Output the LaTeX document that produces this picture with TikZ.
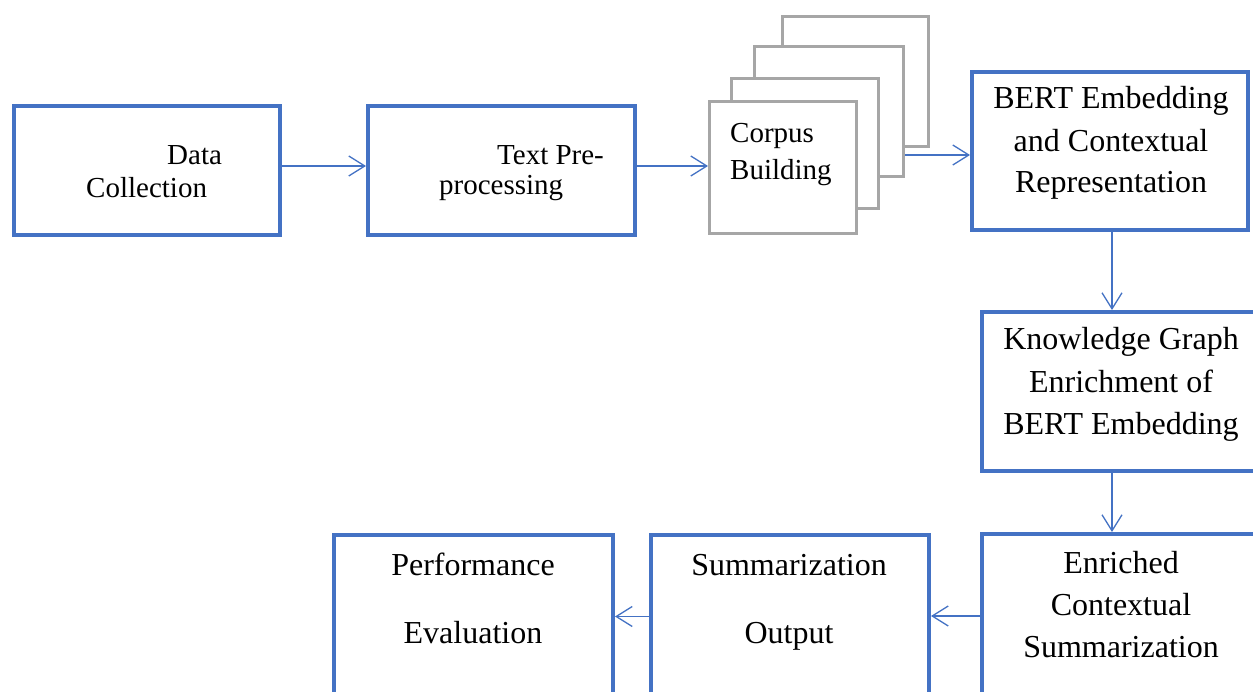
\documentclass[tikz,border=0pt]{standalone}
\usepackage{fontspec}
\setmainfont{Liberation Serif}
\usetikzlibrary{arrows.meta}
\definecolor{boxblue}{HTML}{4472C4}
\definecolor{stackgray}{HTML}{A6A6A6}
\begin{document}
\begin{tikzpicture}[x=1pt,y=-1pt,
  bluebox/.style={draw=boxblue,line width=4pt,fill=white,inner sep=0pt},
  graybox/.style={draw=stackgray,line width=3pt,fill=white,inner sep=0pt},
  smalltxt/.style={inner sep=0pt,font=\fontsize{29}{33}\selectfont},
  bigtxt/.style={inner sep=0pt,font=\fontsize{32}{38}\selectfont},
  flow/.style={draw=boxblue,line width=1.3pt,-{Straight Barb[length=16pt,width=20pt]}}]
\useasboundingbox (0,0) rectangle (1253,692);
\clip (0,0) rectangle (1253,692);
\fill[white] (0,0) rectangle (1253,692);

% blue boxes
\node[bluebox,minimum width=266pt,minimum height=129pt] (dc) at (147,170.5) {};
\node[bluebox,minimum width=267pt,minimum height=129pt] (tp) at (501.5,170.5) {};
\node[bluebox,minimum width=276pt,minimum height=158pt] (bert) at (1110,151) {};
\node[bluebox,minimum width=288pt,minimum height=159pt] (kg) at (1126,391.5) {};
\node[bluebox,minimum width=288pt,minimum height=186pt] (en) at (1126,627) {};
\node[bluebox,minimum width=278pt,minimum height=185pt] (so) at (790,627.5) {};
\node[bluebox,minimum width=279pt,minimum height=185pt] (pe) at (473.5,627.5) {};

% gray stack (back to front)
\node[graybox,minimum width=146pt,minimum height=130pt] (c4) at (855.5,81.5) {};
\node[graybox,minimum width=149pt,minimum height=130pt] (c3) at (829,111.5) {};
\node[graybox,minimum width=147pt,minimum height=130pt] (c2) at (805,143.5) {};
\node[graybox,minimum width=147pt,minimum height=132pt] (c1) at (783,167.5) {};

% texts
\node[smalltxt,anchor=base west] (dct1) at (167,165) {Data};
\node[smalltxt,anchor=base west] (dct2) at (86,198) {Collection};
\node[smalltxt,anchor=base west] (tpt1) at (497,165) {Text Pre-};
\node[smalltxt,anchor=base west] (tpt2) at (439,195) {processing};
\node[smalltxt,anchor=base west] (cbt1) at (730,143) {Corpus};
\node[smalltxt,anchor=base west] (cbt2) at (730,180) {Building};

\node[bigtxt,anchor=base] (bt1) at (1111,109) {BERT Embedding};
\node[bigtxt,anchor=base] (bt2) at (1111,152) {and Contextual};
\node[bigtxt,anchor=base] (bt3) at (1111,193) {Representation};

\node[bigtxt,anchor=base] (kt1) at (1121,350) {Knowledge Graph};
\node[bigtxt,anchor=base] (kt2) at (1121,393) {Enrichment of};
\node[bigtxt,anchor=base] (kt3) at (1121,435) {BERT Embedding};

\node[bigtxt,anchor=base] (et1) at (1121,573) {Enriched};
\node[bigtxt,anchor=base] (et2) at (1121,615) {Contextual};
\node[bigtxt,anchor=base] (et3) at (1121,657) {Summarization};

\node[bigtxt,anchor=base] (st1) at (789,575) {Summarization};
\node[bigtxt,anchor=base] (st2) at (789,643) {Output};

\node[bigtxt,anchor=base] (pt1) at (473,575) {Performance};
\node[bigtxt,anchor=base] (pt2) at (473,643) {Evaluation};

% connectors
\draw[flow] ([yshift=4.5pt]dc.east) -- ([yshift=4.5pt]tp.west);
\draw[flow] ([yshift=4.5pt]tp.east) -- ([yshift=4.5pt]tp.east -| c1.west);
\draw[flow] ([yshift=-43.5pt]c3.east) -- ([yshift=-43.5pt]c3.east -| bert.west);
\draw[flow] ([xshift=2pt]bert.south) -- ([xshift=2pt]bert.south |- kg.north);
\draw[flow] ([xshift=-14pt]kg.south) -- ([xshift=-14pt]kg.south |- en.north);
\draw[flow] ([yshift=11pt]en.west) -- ([yshift=11pt]en.west -| so.east);
\draw[flow] ([yshift=11pt]so.west) -- ([yshift=11pt]so.west -| pe.east);
\end{tikzpicture}
\end{document}
